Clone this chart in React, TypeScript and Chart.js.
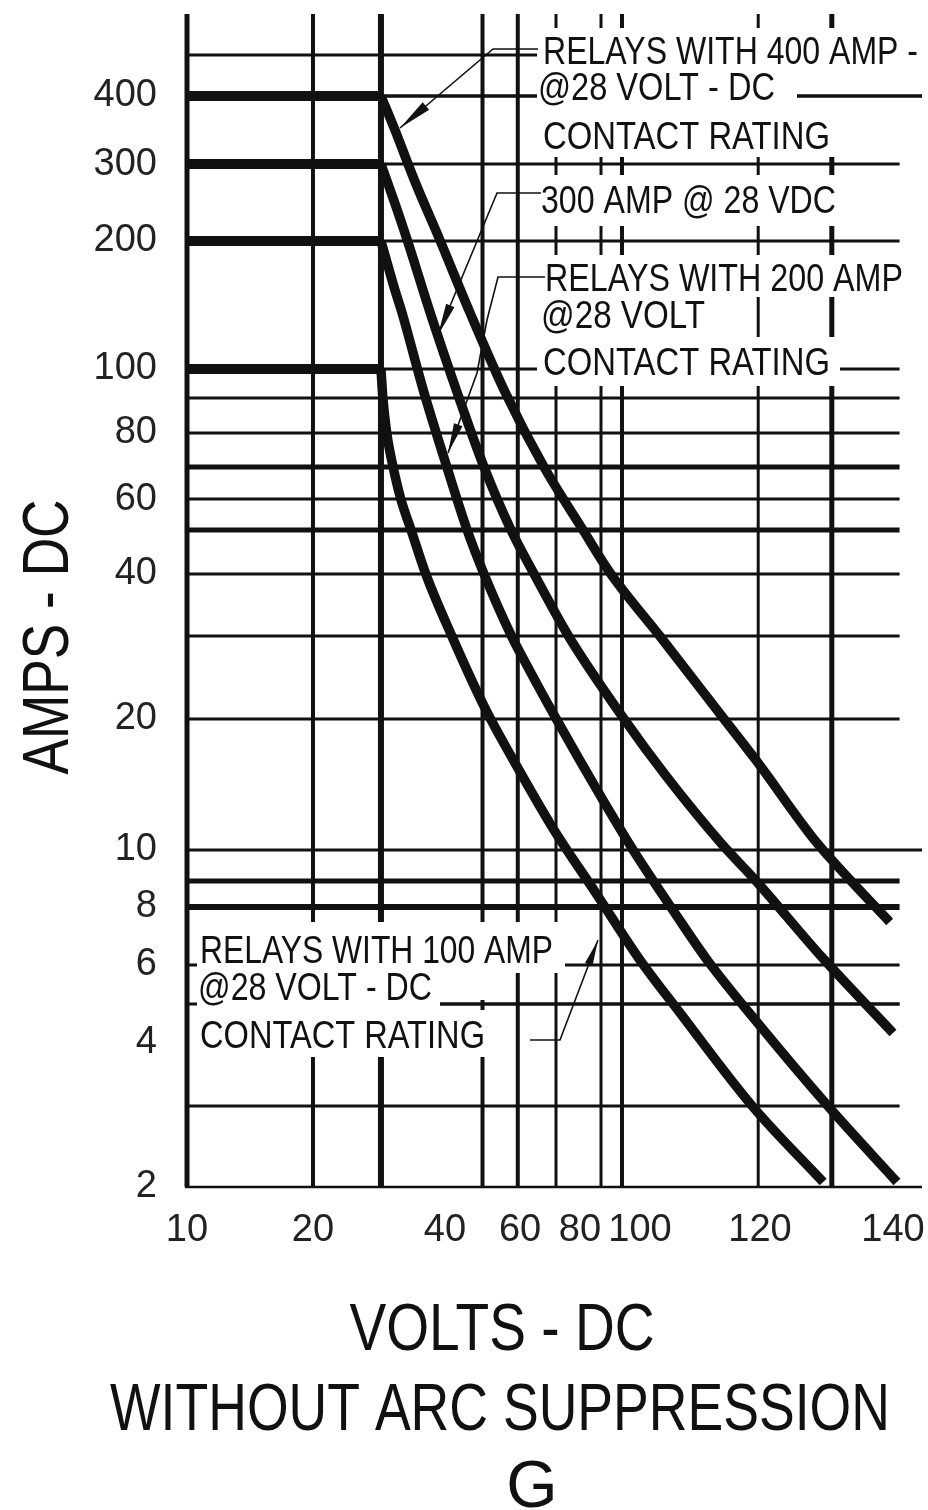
import { useEffect, useRef } from 'react';
import { Chart, LineController, LineElement, PointElement, LinearScale } from 'chart.js';

// ---------------- data ----------------
const X_TICKS = [10, 20, 40, 60, 80, 100, 120, 140];
const Y_TICKS = [2, 4, 6, 8, 10, 20, 40, 60, 80, 100, 200, 300, 400];

const RATINGS = [400, 300, 200, 100];
const FLAT_VOLTS = [10, 30];

const C400_V = [30, 32.2, 35.2, 39.2, 46.7, 56.0, 68, 81, 90.3, 103.3, 114, 119.3, 128.3, 133.7, 139.5];
const C400_A = [400, 346, 276, 201, 135.4, 92, 70, 50, 40, 30, 20, 16.1, 10.5, 9.0, 7.43];

const C300_V = [30, 32.0, 34.1, 37.7, 43.2, 50.4, 57.6, 64.7, 76.3, 94.7, 104.5, 113.5, 119.2, 129.3, 140];
const C300_A = [300, 248, 201, 135.4, 92, 70, 50, 40, 29.9, 20, 14.7, 10.37, 9.03, 6.24, 4.22];

const C200_V = [30, 32.2, 33.3, 36.6, 40.5, 45.9, 50.4, 57.9, 61.3, 71.7, 87.7, 97.7, 105.8, 111.2, 119.2, 130.2, 140.6];
const C200_A = [200, 153, 135.4, 92.7, 70, 50, 40, 29.8, 26.7, 20.2, 13.0, 10, 7.77, 6.15, 4.55, 3, 2.05];

const C100_V = [30, 30.3, 30.9, 31.9, 33.1, 34.7, 37.0, 41.9, 50.9, 58.2, 70.7, 85.3, 100, 106.7, 118.7, 129.5];
const C100_A = [100, 90, 80, 70, 60, 50, 40, 29.9, 20.9, 16.1, 11.3, 8.52, 6.15, 4.74, 3, 2.05];

const CURVES_V = [C400_V, C300_V, C200_V, C100_V];
const CURVES_A = [C400_A, C300_A, C200_A, C100_A];

// grid values of the drawn paper
const GRID_VOLTS = [10, 20, 30, 50, 59.4, 72, 87, 94, 119.7, 130.8];
const GRID_AMPS = [500, 400, 300, 200, 100, 90, 80, 70, 60, 50, 40, 30, 20, 10, 9, 8, 6, 5, 3];

// ---------------- axis definition (value -> fraction of axis) ----------------
const X_BREAKS: [number, number][] = [
  [10, 0], [20, 0.1714], [30, 0.2639], [40, 0.351], [60, 0.4531], [80, 0.5347],
  [100, 0.6163], [120, 0.7796], [140, 0.9605], [144.4, 1],
];
const Y_BREAKS: [number, number][] = [
  [2, 0], [3, 0.0691], [4, 0.1236], [5, 0.156], [6, 0.1893], [8, 0.2387], [9, 0.2609],
  [10, 0.2873], [20, 0.399], [30, 0.4697], [40, 0.5226], [50, 0.5601], [60, 0.5865],
  [70, 0.6138], [80, 0.6428], [90, 0.6726], [100, 0.6974], [200, 0.8065], [300, 0.8721],
  [400, 0.9301], [500, 0.965], [600, 1],
];

const SCALE_SETUP: Record<string, { breaks: [number, number][]; log: boolean; ticks: number[] }> = {
  x: { breaks: X_BREAKS, log: false, ticks: X_TICKS },
  y: { breaks: Y_BREAKS, log: true, ticks: Y_TICKS },
};

class PiecewiseScale extends LinearScale {
  static id = 'piecewise';
  static defaults = {};
  setupCfg() {
    return SCALE_SETUP[(this as any).id];
  }
  buildTicks() {
    return this.setupCfg().ticks.map((v) => ({ value: v }));
  }
  toDecimal(v: number) {
    const { breaks, log } = this.setupCfg();
    const f = (a: number) => (log ? Math.log(a) : a);
    let i = 0;
    while (i < breaks.length - 2 && v > breaks[i + 1][0]) i++;
    const [v0, d0] = breaks[i];
    const [v1, d1] = breaks[i + 1];
    const t = (f(v) - f(v0)) / (f(v1) - f(v0));
    return d0 + t * (d1 - d0);
  }
  fromDecimal(d: number) {
    const { breaks, log } = this.setupCfg();
    let i = 0;
    while (i < breaks.length - 2 && d > breaks[i + 1][1]) i++;
    const [v0, d0] = breaks[i];
    const [v1, d1] = breaks[i + 1];
    const t = (d - d0) / (d1 - d0);
    return log ? Math.exp(Math.log(v0) + t * (Math.log(v1) - Math.log(v0))) : v0 + t * (v1 - v0);
  }
  getPixelForValue(v: number) {
    if (v === null || v === undefined || isNaN(v)) return NaN;
    return (this as any).getPixelForDecimal(this.toDecimal(v));
  }
  getValueForPixel(p: number) {
    return this.fromDecimal((this as any).getDecimalForPixel(p));
  }
}

Chart.register(LineController, LineElement, PointElement, LinearScale, PiecewiseScale as any);

// ---------------- styles ----------------
const FONT = "'Liberation Sans Narrow', 'Arial Narrow', 'Liberation Sans', Arial, sans-serif";
const INK = '#111';
const V_WIDTHS = [5, 4, 6, 4, 4, 3, 3, 4, 3, 5];
const H_WIDTHS = [3, 3.5, 3, 3, 3, 3, 3, 5, 3, 5, 3, 3, 3, 3, 5, 6, 3, 3, 3];

function seg(ctx: CanvasRenderingContext2D, x1: number, y1: number, x2: number, y2: number, w: number) {
  ctx.lineWidth = w;
  ctx.beginPath();
  ctx.moveTo(x1, y1);
  ctx.lineTo(x2, y2);
  ctx.stroke();
}

function leader(ctx: CanvasRenderingContext2D, pts: number[][], headLen: number, halfW: number) {
  ctx.lineWidth = 1.6;
  ctx.beginPath();
  pts.forEach((p, i) => (i ? ctx.lineTo(p[0], p[1]) : ctx.moveTo(p[0], p[1])));
  ctx.stroke();
  const [px, py] = pts[pts.length - 2];
  const [tx, ty] = pts[pts.length - 1];
  const dx = tx - px, dy = ty - py;
  const L = Math.hypot(dx, dy);
  const ux = dx / L, uy = dy / L;
  const bx = tx - ux * headLen, by = ty - uy * headLen;
  ctx.beginPath();
  ctx.moveTo(tx, ty);
  ctx.lineTo(bx - uy * halfW, by + ux * halfW);
  ctx.lineTo(bx + uy * halfW, by - ux * halfW);
  ctx.closePath();
  ctx.fill();
}

const drawingPlugin = {
  id: 'drawing',
  beforeDatasetsDraw(chart: any) {
    const { ctx, chartArea } = chart;
    const x = chart.scales.x, y = chart.scales.y;
    const top = chartArea.top, bottom = chartArea.bottom;
    const xLeft = x.getPixelForValue(10);
    const xRight = x.getPixelForValue(141);
    const xEdge = chartArea.right;
    ctx.save();
    ctx.strokeStyle = INK;
    ctx.lineCap = 'butt';
    GRID_VOLTS.forEach((v, i) => {
      const px = x.getPixelForValue(v);
      seg(ctx, px, top, px, bottom, V_WIDTHS[i]);
    });
    GRID_AMPS.forEach((a, i) => {
      const py = y.getPixelForValue(a);
      seg(ctx, xLeft - 2, py, a === 10 ? xEdge : xRight, py, H_WIDTHS[i]);
    });
    seg(ctx, xLeft - 2, bottom, xEdge, bottom, 2.5);

    // white label backgrounds
    ctx.fillStyle = '#fff';
    const boxes = [
      [537, 28, 922, 157], [537, 175, 845, 226], [537, 255, 905, 297], [537, 297, 712, 337],
      [537, 337, 840, 386], [197, 922, 565, 973], [197, 973, 490, 1000], [197, 1000, 440, 1010],
      [197, 1010, 490, 1057],
    ];
    boxes.forEach(([a, b, c, d]) => ctx.fillRect(a, b, c - a, d - b));
    // lines that pass in front of label boxes
    const y400 = y.getPixelForValue(400);
    seg(ctx, 797, y400, xEdge, y400, 3.5);
    const y5 = y.getPixelForValue(5);
    seg(ctx, 440, y5, xRight, y5, 3);
    ctx.restore();
  },
  afterDatasetsDraw(chart: any) {
    const { ctx } = chart;
    ctx.save();
    ctx.fillStyle = INK;
    ctx.strokeStyle = INK;
    ctx.textAlign = 'left';
    ctx.textBaseline = 'alphabetic';
    ctx.font = `39px ${FONT}`;
    const rows: [string, number, number, number][] = [
      ['RELAYS WITH 400 AMP -', 543, 64, 375],
      ['@28 VOLT - DC', 538, 100, 237],
      ['CONTACT RATING', 543, 149, 287],
      ['300 AMP @ 28 VDC', 541, 213, 295],
      ['RELAYS WITH 200 AMP', 545, 291, 358],
      ['@28 VOLT', 541, 328, 164],
      ['CONTACT RATING', 543, 375, 287],
      ['RELAYS WITH 100 AMP', 200, 963, 353],
      ['@28 VOLT - DC', 198, 1000, 234],
      ['CONTACT RATING', 200, 1048, 285],
    ];
    rows.forEach(([t, lx, by, mw]) => ctx.fillText(t, lx, by, mw));

    leader(ctx, [[538, 49], [493, 49], [400, 128]], 34, 5);
    leader(ctx, [[541, 193], [497, 193], [438, 335]], 32, 4.5);
    leader(ctx, [[545, 277], [498, 277], [487, 320], [477, 373], [448, 453]], 30, 4.5);
    leader(ctx, [[530, 1040], [560, 1040], [598, 940]], 26, 4);

    // axis titles
    ctx.font = `64px ${FONT}`;
    ctx.textAlign = 'center';
    ctx.save();
    ctx.translate(68, 637);
    ctx.rotate(-Math.PI / 2);
    ctx.fillText('AMPS - DC', 0, 0, 275);
    ctx.restore();
    ctx.font = `66px ${FONT}`;
    ctx.fillText('VOLTS - DC', 502, 1350, 305);
    ctx.fillText('WITHOUT ARC SUPPRESSION', 500, 1430, 780);
    ctx.fillText('G', 532, 1507);
    ctx.restore();
  },
};

export default function App() {
  const ref = useRef<HTMLCanvasElement>(null);
  useEffect(() => {
    const datasets: any[] = [];
    RATINGS.forEach((r, k) => {
      datasets.push({
        data: FLAT_VOLTS.map((v) => ({ x: v, y: r })),
        borderColor: INK,
        borderWidth: 10,
        pointRadius: 0,
        borderCapStyle: 'butt',
      });
      datasets.push({
        data: CURVES_V[k].map((v, i) => ({ x: v, y: CURVES_A[k][i] })),
        borderColor: INK,
        borderWidth: 9.5,
        pointRadius: 0,
        cubicInterpolationMode: 'monotone',
        borderCapStyle: 'butt',
        borderJoinStyle: 'round',
      });
    });
    const tickFont = { family: FONT, size: 38 };
    const chart = new Chart(ref.current as HTMLCanvasElement, {
      type: 'line',
      data: { datasets },
      options: {
        responsive: false,
        animation: false,
        events: [],
        layout: { padding: { left: 0, right: 6, top: 14, bottom: 0 } },
        plugins: { legend: { display: false }, tooltip: { enabled: false } },
        scales: {
          x: {
            type: 'piecewise' as any,
            position: 'bottom',
            min: 10,
            max: 144.4,
            grid: { display: false, drawTicks: false },
            border: { display: false },
            ticks: {
              autoSkip: false,
              maxRotation: 0,
              minRotation: 0,
              padding: 21,
              color: '#222',
              font: tickFont,
              callback: (v: any) => String(v),
            },
            afterFit: (s: any) => {
              s.height = 323;
              s.paddingLeft = 0;
              s.paddingRight = 0;
            },
          },
          y: {
            type: 'piecewise' as any,
            position: 'left',
            min: 2,
            max: 600,
            grid: { display: false, drawTicks: false },
            border: { display: false },
            ticks: {
              autoSkip: false,
              padding: 30,
              color: '#222',
              font: tickFont,
              callback: (v: any) => String(v),
            },
            afterFit: (s: any) => {
              s.width = 187;
              s.paddingTop = 0;
              s.paddingBottom = 0;
            },
          },
        } as any,
      },
      plugins: [drawingPlugin],
    } as any);
    return () => chart.destroy();
  }, []);
  return (
    <div style={{ position: 'absolute', left: 0, top: 0, width: 928, height: 1510, background: '#fff' }}>
      <canvas ref={ref} width={928} height={1510} style={{ display: 'block' }} />
    </div>
  );
}
